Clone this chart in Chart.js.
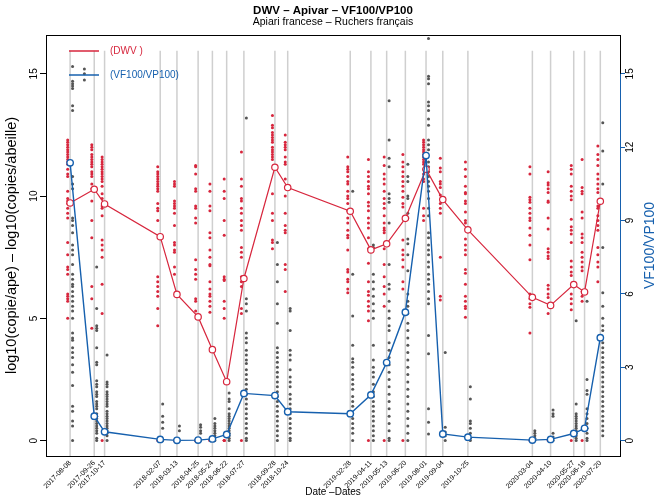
<!DOCTYPE html>
<html>
<head>
<meta charset="utf-8">
<script src="https://cdn.jsdelivr.net/npm/chart.js@4.4.0/dist/chart.umd.min.js"></script>
<style>
  html, body { margin: 0; padding: 0; background: #fff; }
  #wrap { width: 658px; height: 498px; }
</style>
</head>
<body>
<div id="wrap"><canvas id="chart" width="658" height="498"></canvas></div>
<script>
// DATA
const dates = ["2017-08-08", "2017-09-26", "2017-10-17", "2018-02-07", "2018-03-13", "2018-04-25",
  "2018-05-24", "2018-06-22", "2018-07-27", "2018-09-28", "2018-10-24", "2019-02-28", "2019-04-11",
  "2019-05-13", "2019-06-20", "2019-08-01", "2019-09-04", "2019-10-25", "2020-03-04", "2020-04-10",
  "2020-05-27", "2020-06-18", "2020-07-20"];

// mean per date (circles + lines)
const dwvMean = [9.72, 10.28, 9.68, 8.34, 5.98, 5.06, 3.72, 2.41, 6.63, 11.18, 10.35, 9.38, 7.8,
  8.05, 9.09, 11.1, 9.86, 8.62, 5.86, 5.53, 6.38, 6.08, 9.79];
const vfMean = [11.36, 1.0, 0.36, 0.05, 0.01, 0.02, 0.07, 0.25, 1.93, 1.84, 1.18, 1.1, 1.87, 3.19,
  5.25, 11.66, 0.27, 0.14, 0.02, 0.05, 0.29, 0.5, 4.21];

// single samples, one list per date (DWV on left axis)
const dwvSamples = [
  [12.3, 12.2, 12.1, 12.0, 11.9, 11.8, 11.7, 11.6, 11.5, 11.4, 11.3, 11.1, 10.9, 10.8, 10.2, 9.9, 9.8, 9.7, 9.5, 9.3, 9.1, 8.1, 7.6, 7.1, 7.0, 6.8, 6.0, 5.9, 5.8, 5.7, 5.0],
  [12.1, 12.0, 11.9, 11.7, 11.6, 11.5, 11.4, 11.3, 11.2, 11.0, 10.9, 10.8, 10.5, 10.3, 9.8, 9.0, 8.3, 6.3, 5.8, 4.6],
  [11.6, 11.5, 11.4, 11.3, 11.2, 11.1, 11.0, 10.9, 10.8, 10.7, 10.6, 10.4, 10.1, 9.9, 9.6, 9.5, 9.2, 8.2, 8.0, 7.8, 7.5, 6.4, 5.2, 0],
  [11.2, 11.0, 10.9, 10.8, 10.7, 10.6, 10.5, 10.4, 10.3, 10.2, 9.7, 9.5, 9.4, 9.0, 6.7, 6.5, 6.3, 6.1, 5.9, 5.4, 4.7, 0],
  [10.6, 10.5, 10.4, 9.8, 9.7, 9.6, 9.5, 9.3, 8.8, 8.1, 8.0, 7.8, 7.7, 7.1, 6.8, 0, 0],
  [11.25, 11.2, 10.9, 10.3, 10.2, 9.6, 9.5, 9.1, 8.9, 7.4, 7.0, 6.8, 6.6, 5.8, 5.7, 5.3, 0, 0],
  [10.5, 10.2, 9.6, 9.4, 8.5, 8.3, 7.8, 7.5, 7.2, 7.15, 6.5, 6.2, 6.0, 5.9, 5.7, 5.5, 5.25, 0, 0],
  [10.7, 10.2, 9.9, 9.0, 8.4, 6.7, 6.6, 6.55, 5.7, 5.4, 5.0, 0, 0, 0],
  [11.8, 10.7, 10.4, 9.9, 9.8, 9.5, 9.3, 9.0, 8.8, 8.6, 7.9, 7.7, 7.5, 6.7, 6.5, 6.3, 5.4, 5.2, 0],
  [13.3, 12.9, 12.8, 12.6, 12.5, 12.4, 12.3, 12.2, 12.0, 11.9, 11.8, 11.7, 11.6, 11.5, 10.1, 9.3, 9.0, 8.2, 8.1, 7.85],
  [12.5, 12.2, 12.1, 12.0, 11.9, 11.6, 11.4, 11.3, 10.7, 10.0, 9.3, 8.8, 8.6, 8.5, 7.2, 7.0, 6.1],
  [11.6, 11.2, 11.1, 11.0, 10.8, 10.6, 10.5, 10.2, 10.0, 9.9, 9.7, 9.4, 9.1, 8.9, 8.6, 8.4, 8.3, 7.8, 7.0, 6.9, 6.6, 6.5, 6.2, 6.05],
  [11.5, 11.0, 10.8, 10.6, 10.4, 10.3, 10.1, 9.75, 9.6, 9.4, 9.1, 8.9, 8.7, 8.3, 7.85, 7.25, 6.5, 6.1, 5.95, 5.7, 5.5, 5.3, 4.9, 0],
  [11.6, 11.25, 10.9, 10.7, 10.5, 10.2, 9.9, 9.7, 9.5, 9.2, 8.9, 8.7, 8.6, 8.5, 7.85, 7.2, 6.7, 6.3, 6.0, 5.5, 0],
  [11.7, 11.4, 11.2, 11.0, 10.8, 10.6, 10.4, 10.2, 9.95, 9.7, 9.55, 8.2, 7.8, 7.6, 7.4, 7.1, 6.5, 6.2, 0],
  [12.3, 12.2, 12.1, 12.0, 11.9, 11.8, 11.7, 11.6, 11.5, 11.4, 11.3, 11.1, 10.9, 10.7, 10.6, 9.5, 9.2, 9.0],
  [11.55, 11.15, 11.0, 10.6, 10.5, 10.35, 10.05, 9.7, 9.5, 9.3, 7.5, 5.9, 5.75],
  [11.4, 11.1, 10.8, 10.4, 10.15, 10.1, 9.8, 9.7, 9.35, 9.0, 8.9, 8.25, 8.0, 7.8, 7.6, 7.0, 6.85, 6.4, 5.9, 5.7, 5.5, 5.4, 5.05],
  [11.2, 10.9, 9.95, 9.85, 9.75, 9.5, 9.3, 9.1, 9.0, 8.7, 8.4, 8.0, 7.4, 6.0, 5.8, 5.6, 5.45, 4.4, 0],
  [11.0, 10.55, 10.45, 10.3, 10.15, 9.8, 9.75, 9.1, 8.65, 7.85, 7.7, 7.55, 7.45, 6.35, 6.2, 6.0, 5.85, 5.2, 0],
  [11.25, 11.1, 10.9, 10.4, 10.2, 10.0, 9.85, 9.05, 8.75, 8.6, 8.45, 8.1, 7.35, 7.1, 6.9, 6.75, 6.0, 5.8, 5.6, 5.35, 0],
  [11.5, 10.35, 10.2, 10.1, 9.35, 9.1, 8.45, 8.3, 8.1, 7.7, 7.5, 7.3, 7.1, 6.95, 6.1, 5.9, 5.7, 0],
  [12.05, 11.7, 11.5, 11.25, 10.9, 10.7, 10.5, 10.3, 10.15, 9.6, 9.5, 9.2, 9.0, 8.8, 8.6, 7.9, 7.6, 7.3, 7.1, 6.5]
];

// single samples, one list per date (VF100/VP100 on right axis)
const vfSamples = [
  [15.3, 14.7, 14.6, 14.5, 14.4, 13.7, 13.5, 10.8, 10.5, 10.3, 9.1, 9.0, 8.8, 8.5, 8.0, 7.8, 7.6, 7.2, 6.8, 6.6, 6.4, 6.3, 6.1, 5.9, 5.7, 5.5, 5.3, 5.0, 4.4, 4.2, 4.1, 3.8, 3.6, 3.4, 3.1, 2.8, 2.25, 1.4, 1.2, 0.8, 0.6, 0],
  [7.1, 5.4, 4.7, 4.6, 4.5, 3.8, 3.2, 3.1, 2.45, 2.3, 2.2, 2.0, 1.9, 1.8, 1.6, 1.5, 1.4, 1.3, 1.1, 1.0, 0.9, 0.8, 0.7, 0.6, 0.5, 0.4, 0.3, 0.1, 0],
  [3.5, 2.4, 2.3, 2.2, 2.0, 1.9, 1.8, 1.7, 1.6, 1.5, 1.4, 1.2, 1.1, 1.0, 0.9, 0.8, 0.7, 0.6, 0.5, 0.4, 0.3, 0.2, 0],
  [1.5, 1.0, 0.75, 0.5, 0],
  [0.6, 0.4, 0],
  [0.65, 0.55, 0.4, 0.3, 0],
  [0.9, 0.7, 0.6, 0.5, 0.4, 0.3, 0.2, 0],
  [1.95, 1.7, 1.6, 1.3, 1.1, 1.0, 0.9, 0.8, 0.7, 0.6, 0.5, 0.4, 0.3, 0.2, 0.1, 0],
  [13.2, 5.8, 5.6, 5.3, 4.4, 4.2, 4.0, 3.7, 3.5, 3.3, 3.15, 2.9, 2.7, 2.5, 2.3, 2.1, 1.9, 1.7, 1.5, 1.3, 1.1, 0.9, 0.7, 0.5, 0.3, 0.1, 0],
  [8.1, 7.2, 6.5, 5.6, 4.8, 3.8, 3.6, 3.4, 3.2, 3.0, 2.8, 2.6, 2.4, 2.2, 2.0, 1.8, 1.6, 1.4, 1.2, 1.0, 0.8, 0.6, 0.4, 0.2, 0],
  [5.4, 5.3, 4.5, 3.7, 3.5, 3.3, 2.9, 2.6, 2.4, 2.2, 1.9, 1.7, 1.5, 1.3, 1.1, 0.9, 0.7, 0.5, 0.3, 0.1, 0],
  [10.2, 6.8, 5.1, 3.9, 3.35, 3.2, 3.0, 2.7, 2.5, 2.3, 2.1, 1.8, 1.6, 1.4, 1.1, 0.9, 0.7, 0.5, 0.3, 0],
  [8.0, 7.9, 6.8, 6.5, 6.2, 5.9, 5.6, 5.3, 5.0, 3.9, 3.3, 3.0, 2.8, 2.6, 2.3, 2.0, 1.8, 1.6, 1.4, 1.2, 1.0, 0.8, 0.6, 0.4, 0.2, 0],
  [13.9, 12.3, 11.55, 11.2, 10.1, 9.9, 9.75, 8.9, 7.2, 6.4, 6.2, 5.7, 5.3, 5.0, 4.7, 4.5, 4.0, 3.7, 3.4, 3.1, 2.8, 2.5, 2.2, 1.9, 1.6, 1.3, 1.0, 0.7, 0.4, 0.1, 0],
  [11.3, 10.8, 10.6, 10.0, 9.9, 9.3, 9.1, 8.25, 8.05, 7.6, 6.95, 6.0, 5.7, 5.5, 5.2, 4.8, 4.5, 4.2, 3.9, 3.6, 3.3, 3.0, 2.7, 2.4, 2.1, 1.8, 1.5, 1.2, 0.9, 0.6, 0.3, 0],
  [16.45, 14.9, 14.8, 14.6, 13.85, 13.7, 13.5, 13.15, 12.9, 12.3, 12.1, 11.9, 11.4, 11.2, 11.0, 10.8, 10.6, 10.4, 10.2, 9.9, 9.5, 9.2, 8.5, 8.3, 8.0, 7.8, 7.6, 7.3, 7.1, 6.8, 6.6, 6.4, 6.1, 5.8, 5.6, 4.3, 3.55, 1.3, 0.75, 0.27],
  [3.6, 0.55, 0.35, 0.2, 0],
  [2.2, 1.7, 0.8, 0.7, 0.5, 0.3, 0.1, 0],
  [0.4, 0.3, 0.2, 0.1, 0],
  [1.25, 1.1, 1.0, 0.3, 0.15, 0],
  [4.9, 1.5, 1.1, 1.0, 0.9, 0.8, 0.7, 0.6, 0.5, 0.4, 0.3, 0.2, 0.1, 0],
  [5.7, 2.5, 2.05, 1.9, 1.3, 1.1, 0.9, 0.7, 0.5, 0.3, 0.1, 0],
  [13.0, 11.85, 10.5, 7.9, 6.05, 5.5, 5.0, 4.7, 4.5, 4.0, 3.8, 3.6, 3.4, 3.2, 3.0, 2.8, 2.6, 2.4, 2.2, 2.0, 1.8, 1.6, 1.4, 1.2, 1.0, 0.8, 0.6, 0.4, 0.2]
];

// a few VF samples drawn apart from the sampling columns
const vfExtraDate = "2017-09-06";
const vfExtra = [15.2, 15.0, 14.75];

const leftTicks = [0, 5, 10, 15];
const rightTicks = [0, 3, 6, 9, 12, 15];

// STYLE
const RED = "#d7263d";
const BLUE = "#1660ae";
const GREY_DOT = "#555555";
const GREY_LINE = "#cfcfcf";
const FONT = "'Liberation Sans', Arial, Helvetica, sans-serif";
const Y_MIN = -0.63, Y_MAX = 16.59;
const X_MIN = -49, X_MAX = 1117;
const SHIFT = 5; // days, dots drawn beside their sampling line

Chart.defaults.font.family = FONT;
Chart.defaults.color = "#000";

const DAY = 86400000;
const day0 = Date.parse(dates[0]);
const toDay = d => Math.round((Date.parse(d) - day0) / DAY);
const dayOffsets = dates.map(toDay);

// build datasets
const vLines = [];
dayOffsets.forEach(d => {
  vLines.push({ x: d, y: Y_MIN }, { x: d, y: 15.95 }, { x: d, y: null });
});

const dwvPoints = [];
dwvSamples.forEach((list, i) => list.forEach(v => dwvPoints.push({ x: dayOffsets[i] - SHIFT, y: v })));

const vfPoints = [];
vfSamples.forEach((list, i) => list.forEach(v => vfPoints.push({ x: dayOffsets[i] + SHIFT, y: v })));
vfExtra.forEach(v => vfPoints.push({ x: toDay(vfExtraDate), y: v }));

const dwvMeanPts = dwvMean.map((v, i) => ({ x: dayOffsets[i], y: v }));
const vfMeanPts = vfMean.map((v, i) => ({ x: dayOffsets[i], y: v }));

const setTicks = list => scale => { scale.ticks = list.map(v => ({ value: v })); };

// titles, legend, box and the blue right axis line
const decor = {
  id: "decor",
  afterDraw(chart) {
    const { ctx, chartArea: a } = chart;
    const y2 = chart.scales.y2;
    const cx = (a.left + a.right) / 2;
    ctx.save();

    ctx.strokeStyle = "#000";
    ctx.lineWidth = 1;
    ctx.strokeRect(a.left + 0.5, a.top + 0.5, a.right - a.left, a.bottom - a.top);

    ctx.strokeStyle = BLUE;
    ctx.beginPath();
    ctx.moveTo(a.right + 0.5, y2.getPixelForValue(0));
    ctx.lineTo(a.right + 0.5, y2.getPixelForValue(15));
    ctx.stroke();

    ctx.textAlign = "center";
    ctx.textBaseline = "middle";
    ctx.fillStyle = "#000";
    ctx.font = "bold 11.5px " + FONT;
    ctx.fillText("DWV – Apivar – VF100/VP100", cx, 11);
    ctx.font = "10.5px " + FONT;
    ctx.fillText("Apiari francese – Ruchers français", cx, 22.5);

    // legend
    ctx.lineWidth = 1.5;
    ctx.font = "10px " + FONT;
    ctx.textAlign = "left";
    [["(DWV )", RED, 51], ["(VF100/VP100)", BLUE, 75]].forEach(([txt, col, y]) => {
      ctx.strokeStyle = col;
      ctx.beginPath();
      ctx.moveTo(69, y);
      ctx.lineTo(99, y);
      ctx.stroke();
      ctx.fillStyle = col;
      ctx.fillText(txt, 110, y);
    });

    // right axis title
    ctx.translate(650, (a.top + a.bottom) / 2);
    ctx.rotate(-Math.PI / 2);
    ctx.textAlign = "center";
    ctx.fillStyle = BLUE;
    ctx.font = "14px " + FONT;
    ctx.fillText("VF100/VP100", 0, 0);
    ctx.restore();
  }
};

new Chart(document.getElementById("chart"), {
  type: "scatter",
  data: {
    datasets: [
      {
        type: "line", data: vLines, yAxisID: "y", order: 5,
        borderColor: GREY_LINE, borderWidth: 1.5, pointRadius: 0, spanGaps: false
      },
      {
        data: dwvPoints, yAxisID: "y", order: 4,
        backgroundColor: RED, pointRadius: 1.5, pointBorderWidth: 0
      },
      {
        data: vfPoints, yAxisID: "y2", order: 3,
        backgroundColor: GREY_DOT, pointRadius: 1.5, pointBorderWidth: 0
      },
      {
        type: "line", data: dwvMeanPts, yAxisID: "y", order: 2,
        borderColor: RED, borderWidth: 1.2, pointRadius: 3.2,
        pointBorderColor: RED, pointBackgroundColor: "#fff", pointBorderWidth: 1.2
      },
      {
        type: "line", data: vfMeanPts, yAxisID: "y2", order: 1,
        borderColor: BLUE, borderWidth: 1.4, pointRadius: 3.2,
        pointBorderColor: BLUE, pointBackgroundColor: "#fff", pointBorderWidth: 1.4
      }
    ]
  },
  options: {
    responsive: false,
    animation: false,
    devicePixelRatio: 1,
    layout: { padding: { top: 35, left: 0, right: 0, bottom: 0 } },
    plugins: { legend: { display: false }, tooltip: { enabled: false }, title: { display: false } },
    scales: {
      x: {
        type: "linear", min: X_MIN, max: X_MAX,
        afterBuildTicks: setTicks(dayOffsets),
        afterFit: s => { s.height = 42; },
        grid: { display: false, drawTicks: false },
        border: { display: false },
        ticks: {
          autoSkip: false, minRotation: 45, maxRotation: 45, padding: 3,
          font: { size: 7 }, color: "#000",
          callback: v => dates[dayOffsets.indexOf(v)]
        },
        title: { display: true, text: "Date –Dates", font: { size: 10 }, padding: 0 }
      },
      y: {
        position: "left", min: Y_MIN, max: Y_MAX,
        afterBuildTicks: setTicks(leftTicks),
        afterFit: s => { s.width = 46; },
        grid: { drawOnChartArea: false, tickLength: 6, color: "#000" },
        border: { display: false },
        ticks: { minRotation: 90, maxRotation: 90, crossAlign: "center", padding: 0, font: { size: 10 }, color: "#000" },
        title: {
          display: true, text: "log10(copie/ape) – log10(copies/abeille)",
          font: { size: 14.5 }, padding: { top: 3, bottom: 0 }
        }
      },
      y2: {
        position: "right", min: Y_MIN, max: Y_MAX,
        afterBuildTicks: setTicks(rightTicks),
        afterFit: s => { s.width = 38; },
        grid: { drawOnChartArea: false, tickLength: 5, color: BLUE },
        border: { display: false },
        ticks: { minRotation: 90, maxRotation: 90, crossAlign: "center", padding: 0, font: { size: 10 }, color: "#000" }
      }
    }
  },
  plugins: [decor]
});
</script>
</body>
</html>
